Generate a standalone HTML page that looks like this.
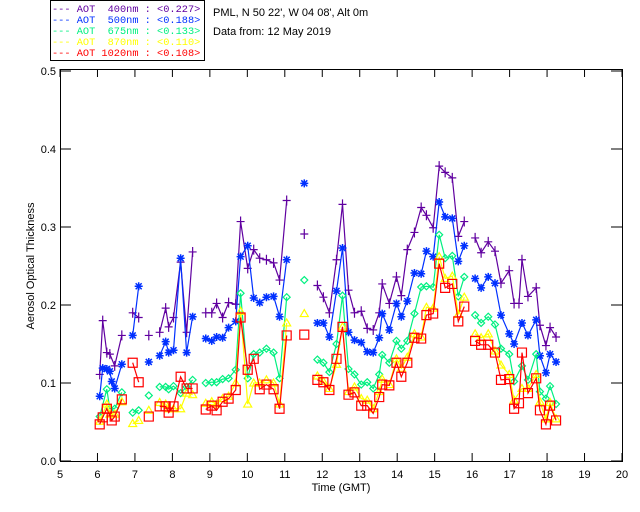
<!DOCTYPE html>
<html><head><meta charset="utf-8"><style>
html,body{margin:0;padding:0;background:#fff;}
svg{display:block;font-family:"Liberation Sans",sans-serif;}
.lg{font-family:"Liberation Mono",monospace;font-size:10.3px;}
</style></head><body>
<svg id="chart" width="640" height="512" xmlns="http://www.w3.org/2000/svg">
<rect x="0" y="0" width="640" height="512" fill="#fff"/>
<g>
<rect x="50.5" y="0.5" width="154" height="60" fill="none" stroke="#000" stroke-width="1"/>
<text class="lg" x="52" y="12" fill="#6000a0" xml:space="preserve">--- AOT  400nm : &lt;0.227&gt;</text>
<text class="lg" x="52" y="23" fill="#0030ff" xml:space="preserve">--- AOT  500nm : &lt;0.188&gt;</text>
<text class="lg" x="52" y="34" fill="#00f080" xml:space="preserve">--- AOT  675nm : &lt;0.133&gt;</text>
<text class="lg" x="52" y="45" fill="#ffff00" xml:space="preserve">--- AOT  870nm : &lt;0.110&gt;</text>
<text class="lg" x="52" y="56" fill="#ff0000" xml:space="preserve">--- AOT 1020nm : &lt;0.108&gt;</text>
</g>
<text x="213" y="16" font-size="11" fill="#000">PML, N 50 22', W 04 08', Alt 0m</text>
<text x="213" y="35" font-size="11" fill="#000">Data from: 12 May 2019</text>
<text x="341" y="491" font-size="11" text-anchor="middle">Time (GMT)</text>
<text x="34" y="266" font-size="11" text-anchor="middle" transform="rotate(-90 34 266)">Aerosol Optical Thickness</text>
<g id="axes"></g>
<g id="series"></g>
</svg>
<script>
const times=[6.06,6.14,6.25,6.33,6.38,6.46,6.65,6.94,7.10,7.37,7.66,7.82,7.90,8.03,8.22,8.38,8.54,8.89,9.05,9.18,9.34,9.50,9.69,9.82,10.01,10.17,10.33,10.51,10.70,10.86,11.05,11.52,11.87,12.03,12.19,12.38,12.54,12.70,12.86,13.04,13.20,13.36,13.52,13.60,13.79,13.98,14.11,14.27,14.46,14.64,14.78,14.96,15.12,15.28,15.47,15.63,15.79,16.08,16.24,16.43,16.61,16.77,16.99,17.12,17.25,17.33,17.49,17.71,17.81,17.97,18.08,18.24];
const aot400=[0.111,0.180,0.139,0.137,null,0.122,0.161,0.190,0.184,0.161,0.165,0.196,0.172,0.184,0.255,0.165,0.268,0.190,0.190,0.202,0.184,0.203,0.201,0.307,0.247,0.271,0.260,0.258,0.254,0.232,0.334,0.291,0.225,0.210,0.190,0.258,0.329,0.219,0.190,0.192,0.170,0.168,0.190,0.227,0.202,0.236,0.212,0.271,0.293,0.325,0.315,0.299,0.378,0.370,0.363,0.288,0.307,0.286,0.267,0.281,0.269,0.228,0.244,0.202,0.202,0.258,0.211,0.222,0.174,0.148,0.171,0.159];
const aot500=[0.083,0.119,0.118,0.115,0.102,0.093,0.124,0.161,0.224,0.127,0.135,0.153,0.139,0.142,0.260,0.139,0.185,0.157,0.154,0.159,0.158,0.171,0.179,0.262,0.276,0.209,0.203,0.210,0.211,0.185,0.258,0.356,0.177,0.177,0.159,0.218,0.273,0.165,0.155,0.152,0.140,0.139,0.158,0.189,0.168,0.202,0.185,0.205,0.241,0.240,0.269,0.262,0.332,0.313,0.311,0.256,0.276,0.234,0.222,0.236,0.228,0.187,0.163,0.150,null,0.177,0.161,0.181,0.135,0.113,0.137,0.127];
const aot675=[0.057,null,0.092,0.067,null,0.067,0.088,0.062,0.065,0.084,0.095,0.095,0.092,0.096,0.087,0.095,0.104,0.100,0.101,0.101,0.105,0.106,0.117,0.215,0.106,0.137,0.139,0.144,0.139,0.106,0.210,0.232,0.130,0.126,0.114,0.150,0.212,0.118,0.111,0.098,0.101,0.093,0.111,0.136,0.126,0.154,0.144,0.154,0.189,0.223,0.224,0.223,0.290,0.260,0.263,0.211,0.236,0.187,0.177,0.185,0.175,0.144,0.137,0.102,null,0.122,0.104,0.137,0.089,0.080,0.096,0.073];
const aot870=[0.051,null,0.073,0.060,null,0.060,0.076,0.048,0.052,0.065,0.075,0.073,0.067,0.067,0.067,0.087,0.085,0.074,0.076,0.073,0.080,0.083,0.100,0.192,0.073,0.100,0.100,0.104,0.100,0.073,0.177,0.189,0.109,0.102,0.093,0.124,0.172,0.089,0.095,0.080,0.078,0.067,0.089,0.105,0.098,0.131,0.119,0.133,0.163,0.159,0.197,0.196,0.262,0.234,0.237,0.188,0.210,0.163,0.158,0.163,0.141,0.123,0.111,0.078,null,0.093,0.093,0.111,0.076,0.054,0.075,0.054];
const aot1020=[0.047,0.056,0.067,null,0.052,0.057,0.079,0.126,0.101,0.057,0.070,0.070,0.062,0.070,0.108,0.093,0.093,0.066,0.071,0.065,0.076,0.080,0.091,0.184,0.117,0.131,0.092,0.098,0.092,0.067,0.161,0.162,0.104,0.101,0.091,0.131,0.172,0.085,0.088,0.071,0.071,0.061,0.082,0.098,0.097,0.126,0.108,0.126,0.158,0.157,0.187,0.189,0.253,0.222,0.227,0.179,0.198,0.154,0.149,0.149,0.139,0.104,0.105,0.067,0.074,0.139,0.087,0.106,0.065,0.047,0.071,0.052];
const xTicks=[5,6,7,8,9,10,11,12,13,14,15,16,17,18,19,20];
const yTicks=[0.0,0.1,0.2,0.3,0.4,0.5];
const yTickLabels=["0.0","0.1","0.2","0.3","0.4","0.5"];

const NS="http://www.w3.org/2000/svg";
const X0=60,X1=622,Y0=461,Y1=71;
function xs(t){return X0+(t-5)/15*(X1-X0);}
function ys(v){return Y0-v/0.5*(Y0-Y1);}
function mk(tag,attrs,parent){const e=document.createElementNS(NS,tag);for(const k in attrs)e.setAttribute(k,attrs[k]);parent.appendChild(e);return e;}
const axes=document.getElementById('axes');
const frame=mk('rect',{x:X0+0.5,y:69.5,width:X1-X0,height:Y0-69,fill:'none',stroke:'#000','stroke-width':1},axes);


xTicks.forEach(t=>{
  const x=xs(t);
  const tb=mk('line',{x1:x,y1:Y0,x2:x,y2:Y0-8,stroke:'#000','stroke-width':1},axes);
  
  
  const tt=mk('line',{x1:x,y1:69,x2:x,y2:77,stroke:'#000','stroke-width':1},axes);
  
  
  const lb=mk('text',{x:x,y:Y0+17,'font-size':11,'text-anchor':'middle'},axes);
  lb.textContent=String(t);
  
  
});
yTicks.forEach((v,i)=>{
  const y=ys(v);
  const tl=mk('line',{x1:X0,y1:y,x2:X0+11,y2:y,stroke:'#000','stroke-width':1},axes);
  
  
  const tr=mk('line',{x1:X1,y1:y,x2:X1-11,y2:y,stroke:'#000','stroke-width':1},axes);
  
  
  const lb=mk('text',{x:X0-4,y:y+4,'font-size':11,'text-anchor':'end'},axes);
  lb.textContent=yTickLabels[i];
  
  
});
const seriesG=document.getElementById('series');
const defs=[
  {name:'aot-400nm',vals:aot400,color:'#6000a0',m:'plus'},
  {name:'aot-500nm',vals:aot500,color:'#0030ff',m:'star'},
  {name:'aot-675nm',vals:aot675,color:'#00f080',m:'diamond'},
  {name:'aot-870nm',vals:aot870,color:'#ffff00',m:'tri'},
  {name:'aot-1020nm',vals:aot1020,color:'#ff0000',m:'square'}
];
function marker(g,type,x,y,c){
  let d;
  if(type==='plus')d=`M${x-4},${y}H${x+4}M${x},${y-5}V${y+5}`;
  else if(type==='star')d=`M${x-4},${y}H${x+4}M${x},${y-4}V${y+4}M${x-3},${y-3}L${x+3},${y+3}M${x-3},${y+3}L${x+3},${y-3}`;
  else if(type==='diamond')d=`M${x},${y-3.5}L${x+3.5},${y}L${x},${y+3.5}L${x-3.5},${y}Z`;
  else if(type==='tri')d=`M${x},${y-4}L${x+4},${y+3}L${x-4},${y+3}Z`;
  else d=`M${x-4.5},${y-4.5}h9v9h-9Z`;
  const p=mk('path',{d:d,fill:'none',stroke:c,'stroke-width':type==='star'?1.5:1.2},g);
  
  
}
defs.forEach(s=>{
  const g=mk('g',{},seriesG);
  
  
  let segs=[],cur=[],prevT=null;
  times.forEach((t,i)=>{
    const v=s.vals[i];
    if(v==null)return;
    if(prevT!==null&&t-prevT>0.25){segs.push(cur);cur=[];}
    cur.push([xs(t),ys(v)]);prevT=t;
  });
  segs.push(cur);
  segs.forEach(sg=>{
    if(sg.length<2)return;
    const pl=mk('polyline',{points:sg.map(p=>p[0].toFixed(1)+','+p[1].toFixed(1)).join(' '),fill:'none',stroke:s.color,'stroke-width':1.2},g);
    
    
  });
  segs.forEach(sg=>sg.forEach(p=>marker(g,s.m,p[0],p[1],s.color)));
});
</script>
</body></html>
